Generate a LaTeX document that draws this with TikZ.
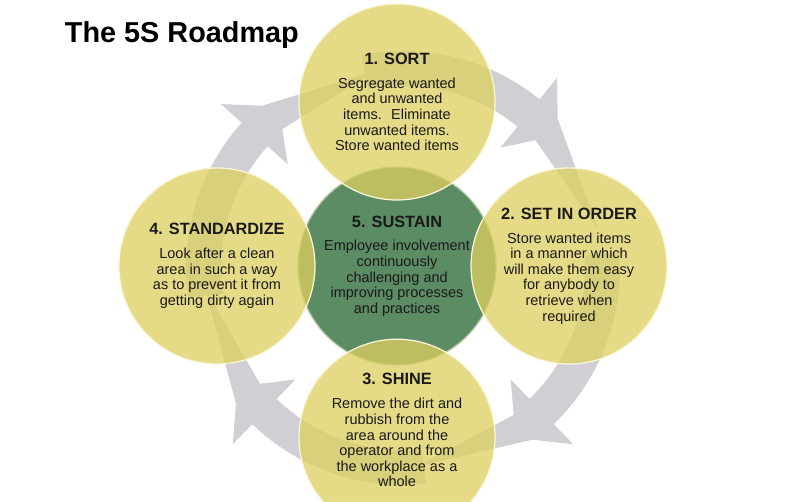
\documentclass[tikz,border=0pt]{standalone}
\usepackage{fontspec}
\setmainfont{Liberation Sans}
\usetikzlibrary{positioning}
\definecolor{ringgray}{RGB}{208,208,212}
\definecolor{stepyellow}{RGB}{221,208,95}
\definecolor{hubgreen}{RGB}{92,140,100}
\definecolor{rimlight}{RGB}{250,246,215}
\tikzset{
	on grid, % node distances are taken centre to centre
	stepcircle/.style={circle, minimum size=4.9cm, inner sep=0pt, fill=stepyellow, fill opacity=0.75, draw=rimlight, line width=0.9pt}, % the four yellow steps
	hubcircle/.style={circle, minimum size=4.95cm, inner sep=0pt, fill=hubgreen, draw=rimlight!55!hubgreen, line width=0.9pt}, % the green centre
	steptext/.style={align=center, text=black!90, font=\fontsize{10.3}{11.1}\selectfont}, % text inside a circle
	ringpart/.style={fill=ringgray}, % grey arrows of the cycle
}
\newcommand{\steptitle}[1]{{\fontsize{11.6}{13}\selectfont\bfseries #1}}
% start angle, barb angle, tip angle
\newcommand{\ringarrow}[3]{
	\fill[ringpart] (#1:182) arc[start angle=#1, end angle=#2, radius=182] -- (#2:155) -- (#2+7:184) -- (#3:199) -- (#2+7:215) -- (#2:245) -- (#2:217) arc[start angle=#2, end angle=#1, radius=217] -- cycle;
}

\begin{document}
\begin{tikzpicture}[x=0.025cm, y=-0.025cm]
	\useasboundingbox[fill=white] (0,0) rectangle (788,501);
	\begin{scope}[shift={(403,268)}]
		\ringarrow{172}{222}{262}
		\ringarrow{259}{309}{349}
		\ringarrow{356}{406}{446}
		\ringarrow{84}{134}{174}
	\end{scope}
	\node[hubcircle] (hub) at (397,266) {};
	\node[stepcircle, above=4.1cm of hub] (sort) {};
	\node[stepcircle, right=4.3cm of hub] (order) {};
	\node[stepcircle, below=4.28cm of hub] (shine) {};
	\node[stepcircle, left=4.5cm of hub] (standard) {};

	\node[steptext] (sorttext) at (sort) {\steptitle{1. SORT}\\[5.9pt]
		Segregate wanted\\ and unwanted\\ items.~ Eliminate\\ unwanted items.\\ Store wanted items};
	\node[steptext] (ordertext) at (order) {\steptitle{2. SET IN ORDER}\\[5.9pt]
		Store wanted items\\ in a manner which\\ will make them easy\\ for anybody to\\ retrieve when\\ required};
	\node[steptext, yshift=0.175cm] (shinetext) at (shine) {\steptitle{3. SHINE}\\[5.9pt]
		Remove the dirt and\\ rubbish from the\\ area around the\\ operator and from\\ the workplace as a\\ whole};
	\node[steptext] (standardtext) at (standard) {\steptitle{4. STANDARDIZE}\\[5.9pt]
		Look after a clean\\ area in such a way\\ as to prevent it from\\ getting dirty again};
	\node[steptext] (hubtext) at (hub) {\steptitle{5. SUSTAIN}\\[5.9pt]
		Employee involvement\\ continuously\\ challenging and\\ improving processes\\ and practices};

	\node[anchor=base west, font=\fontsize{20.5}{25}\selectfont\bfseries] (title) at (60,42) {The 5S Roadmap};
\end{tikzpicture}
\end{document}
